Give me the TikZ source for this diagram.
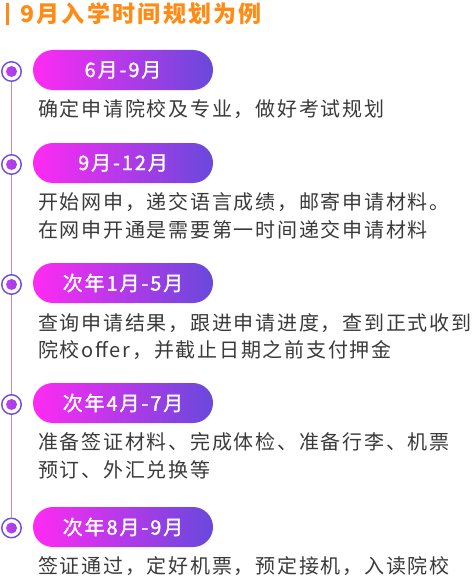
\documentclass[tikz,border=0pt]{standalone}
\usepackage{fontspec}
\newfontfamily\cjk[LetterSpace=8.75]{Noto Sans CJK SC}
\newfontfamily\cjkpill[LetterSpace=9.5,FakeBold=1.6]{Noto Sans CJK SC}
\newfontfamily\cjkhead[LetterSpace=10]{Noto Sans CJK SC}
\definecolor{headorange}{HTML}{FF8A14}
\definecolor{pillmag}{HTML}{FF2AF4}
\definecolor{pillpur}{HTML}{6849DC}
\definecolor{ringpur}{HTML}{6D4CE0}
\definecolor{linepur}{HTML}{B08CEC}
\definecolor{dotmag}{HTML}{D63CF2}
\definecolor{dotpur}{HTML}{8A40E2}
\definecolor{bodygray}{HTML}{3A3A3A}

\begin{document}
\begin{tikzpicture}[x=1pt,y=-1pt,
		pill/.style={minimum width=180pt,minimum height=40pt,rounded corners=20pt,inner sep=0pt,
			left color=pillmag,right color=pillpur,text=white,font=\cjkpill\fontsize{20}{24}\selectfont},
		dot/.style={circle,draw=ringpur,line width=1.4pt,fill=white,minimum size=19.5pt,inner sep=0pt,
			path picture={\shade[left color=dotmag,right color=dotpur] (path picture bounding box.center) circle (5.5pt);}},
		note/.style={anchor=west,inner sep=0pt,align=left,text=bodygray,font=\cjk\fontsize{20}{27.5}\selectfont},
		tline/.style={draw=linepur,line width=1.4pt}]
				\useasboundingbox (0,0) rectangle (476,578);
				\fill[headorange] (6,3) rectangle (9,25);
				\node[anchor=west,inner sep=0pt,text=headorange,font=\cjkhead\bfseries\fontsize{23}{26}\selectfont] (head) at (20,14) {9月入学时间规划为例};
				\node[pill] (p1) at (123,70) {6月-9月};
				\node[pill] (p2) at (123,163) {9月-12月};
				\node[pill] (p3) at (123,283) {次年1月-5月};
				\node[pill] (p4) at (123,403) {次年4月-7月};
				\node[pill] (p5) at (123,527) {次年8月-9月};
				\node[dot] (d1) at (11.5,71.5) {};
				\node[dot] (d2) at (11.5,164.5) {};
				\node[dot] (d3) at (11.5,284.5) {};
				\node[dot] (d4) at (11.5,404.5) {};
				\node[dot] (d5) at (11.5,528) {};
				\foreach \a/\b in {1/2,2/3,3/4,4/5}
					\draw[tline] (d\a) -- (d\b);
				\node[note] (n1) at (38,109) {确定申请院校及专业，做好考试规划};
				\node[note] (n2) at (38,216) {开始网申，递交语言成绩，邮寄申请材料。\\在网申开通是需要第一时间递交申请材料};
				\node[note] (n3) at (38,336.5) {查询申请结果，跟进申请进度，查到正式收到\\院校offer，并截止日期之前支付押金};
				\node[note] (n4) at (38,456) {准备签证材料、完成体检、准备行李、机票\\预订、外汇兑换等};
				\node[note] (n5) at (38,566) {签证通过，定好机票，预定接机，入读院校};
			\end{tikzpicture}
\end{document}
